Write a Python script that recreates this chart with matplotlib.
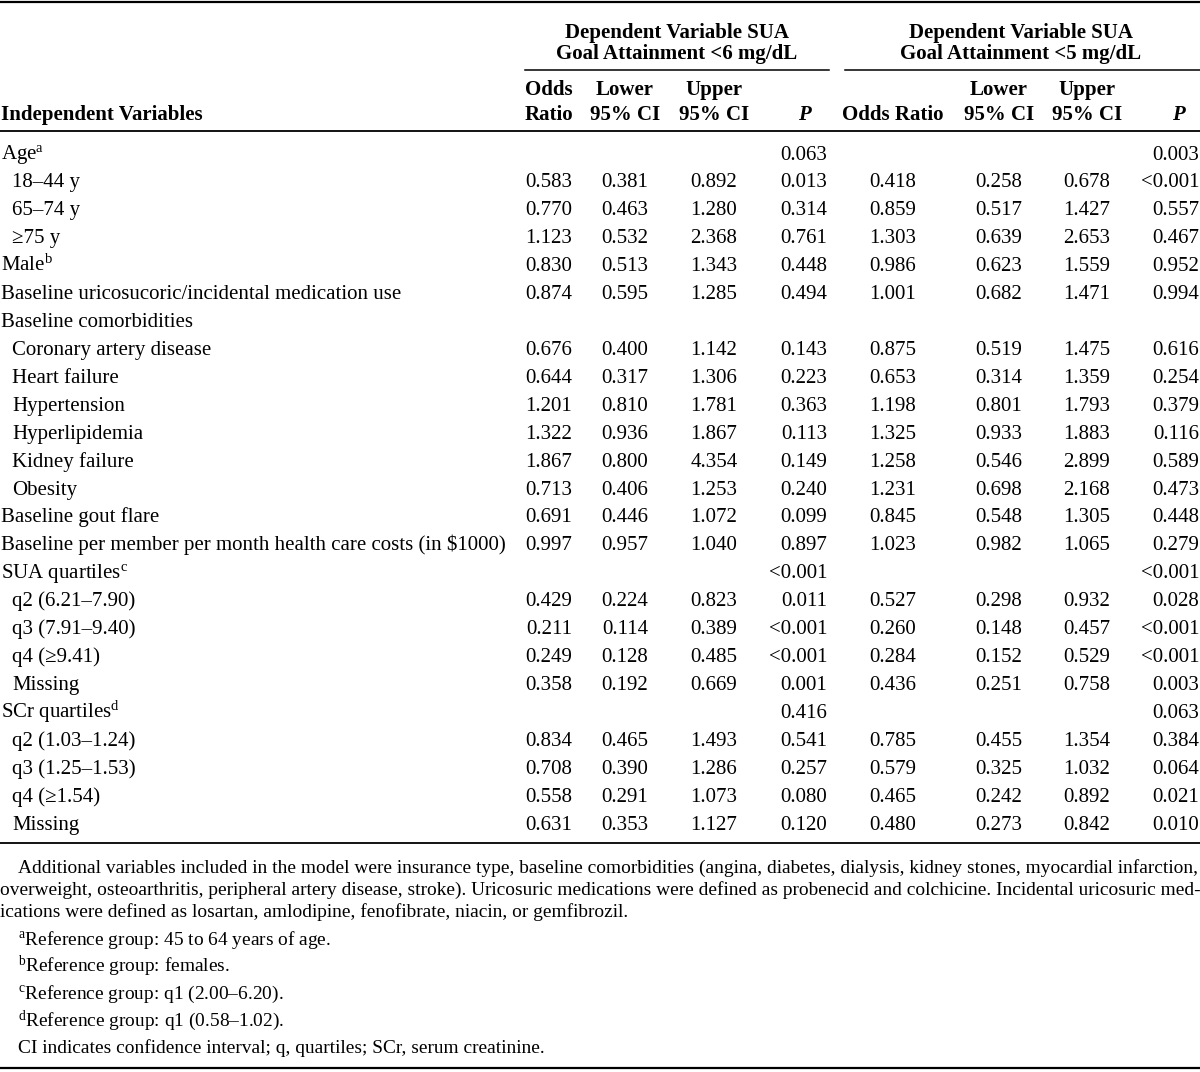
import matplotlib
matplotlib.use("Agg")
import matplotlib.pyplot as plt

plt.rcParams['font.family'] = ['Liberation Serif', 'DejaVu Serif']
plt.rcParams['mathtext.fontset'] = 'custom'
plt.rcParams['mathtext.rm'] = 'Liberation Serif'
plt.rcParams['mathtext.it'] = 'Liberation Serif:italic'
plt.rcParams['mathtext.bf'] = 'Liberation Serif:bold'

# ---------------- data ----------------
labels = ["Age$^{\\rm a}$", "18\u201344 y", "65\u201374 y", "\u226575 y", "Male$^{\\rm b}$",
          "Baseline uricosucoric/incidental medication use", "Baseline comorbidities",
          "Coronary artery disease", "Heart failure", "Hypertension", "Hyperlipidemia",
          "Kidney failure", "Obesity", "Baseline gout flare",
          "Baseline per member per month health care costs (in \\$1000)",
          "SUA quartiles$^{\\rm c}$", "q2 (6.21\u20137.90)", "q3 (7.91\u20139.40)", "q4 (\u22659.41)", "Missing",
          "SCr quartiles$^{\\rm d}$", "q2 (1.03\u20131.24)", "q3 (1.25\u20131.53)", "q4 (\u22651.54)", "Missing"]
indented = [0, 1, 1, 1, 0, 0, 0, 1, 1, 1, 1, 1, 1, 0, 0, 0, 1, 1, 1, 1, 0, 1, 1, 1, 1]

or6 = ["", "0.583", "0.770", "1.123", "0.830", "0.874", "", "0.676", "0.644", "1.201", "1.322", "1.867", "0.713",
       "0.691", "0.997", "", "0.429", "0.211", "0.249", "0.358", "", "0.834", "0.708", "0.558", "0.631"]
lo6 = ["", "0.381", "0.463", "0.532", "0.513", "0.595", "", "0.400", "0.317", "0.810", "0.936", "0.800", "0.406",
       "0.446", "0.957", "", "0.224", "0.114", "0.128", "0.192", "", "0.465", "0.390", "0.291", "0.353"]
hi6 = ["", "0.892", "1.280", "2.368", "1.343", "1.285", "", "1.142", "1.306", "1.781", "1.867", "4.354", "1.253",
       "1.072", "1.040", "", "0.823", "0.389", "0.485", "0.669", "", "1.493", "1.286", "1.073", "1.127"]
p6 = ["0.063", "0.013", "0.314", "0.761", "0.448", "0.494", "", "0.143", "0.223", "0.363", "0.113", "0.149", "0.240",
      "0.099", "0.897", "<0.001", "0.011", "<0.001", "<0.001", "0.001", "0.416", "0.541", "0.257", "0.080", "0.120"]

or5 = ["", "0.418", "0.859", "1.303", "0.986", "1.001", "", "0.875", "0.653", "1.198", "1.325", "1.258", "1.231",
       "0.845", "1.023", "", "0.527", "0.260", "0.284", "0.436", "", "0.785", "0.579", "0.465", "0.480"]
lo5 = ["", "0.258", "0.517", "0.639", "0.623", "0.682", "", "0.519", "0.314", "0.801", "0.933", "0.546", "0.698",
       "0.548", "0.982", "", "0.298", "0.148", "0.152", "0.251", "", "0.455", "0.325", "0.242", "0.273"]
hi5 = ["", "0.678", "1.427", "2.653", "1.559", "1.471", "", "1.475", "1.359", "1.793", "1.883", "2.899", "2.168",
       "1.305", "1.065", "", "0.932", "0.457", "0.529", "0.758", "", "1.354", "1.032", "0.892", "0.842"]
p5 = ["0.003", "<0.001", "0.557", "0.467", "0.952", "0.994", "", "0.616", "0.254", "0.379", "0.116", "0.589", "0.473",
      "0.448", "0.279", "<0.001", "0.028", "<0.001", "<0.001", "0.003", "0.063", "0.384", "0.064", "0.021", "0.010"]

group_titles = ["Dependent Variable SUA\nGoal Attainment <6 mg/dL",
                "Dependent Variable SUA\nGoal Attainment <5 mg/dL"]
col_heads = [["Odds\nRatio", "Lower\n95% CI", "Upper\n95% CI", "P"],
             ["Odds Ratio", "Lower\n95% CI", "Upper\n95% CI", "P"]]
row_head = "Independent Variables"

note_para = ["Additional variables included in the model were insurance type, baseline comorbidities (angina, diabetes, dialysis, kidney stones, myocardial infarction,",
             "overweight, osteoarthritis, peripheral artery disease, stroke). Uricosuric medications were defined as probenecid and colchicine. Incidental uricosuric med-",
             "ications were defined as losartan, amlodipine, fenofibrate, niacin, or gemfibrozil."]
notes = ["${}^{\\rm a}$Reference group: 45 to 64 years of age.",
         "${}^{\\rm b}$Reference group: females.",
         "${}^{\\rm c}$Reference group: q1 (2.00\u20136.20).",
         "${}^{\\rm d}$Reference group: q1 (0.58\u20131.02).",
         "CI indicates confidence interval; q, quartiles; SCr, serum creatinine."]

# ---------------- layout ----------------
W, H = 1200, 1072
fig = plt.figure(figsize=(W / 100, H / 100), dpi=100)
ax = fig.add_axes([0, 0, 1, 1])
ax.set_xlim(0, W)
ax.set_ylim(H, 0)
ax.axis('off')
renderer = fig.canvas.get_renderer()


def text_width(s, size, **kw):
    t = ax.text(0, 0, s, fontsize=size, **kw)
    w = t.get_window_extent(renderer=renderer).width
    t.remove()
    return w


# font sizes fitted to the reference widths
FS = 10 * 503 / text_width(labels[14], 10)
FS_N = min(10 * 1178 / text_width(note_para[0], 10),
           10 * 1196 / text_width(note_para[1], 10))

# rules
ax.plot([0, W], [1.5, 1.5], color='black', lw=1.6)
ax.plot([0, W], [131, 131], color='black', lw=1.3)
ax.plot([525, 829], [70, 70], color='black', lw=1.1)
ax.plot([845, W], [70, 70], color='black', lw=1.1)
ax.plot([0, W], [843, 843], color='black', lw=1.3)
ax.plot([0, W], [1068, 1068], color='black', lw=1.6)

# header
for g, xc in enumerate([677, 1021]):
    l1, l2 = group_titles[g].split("\n")
    ax.text(xc, 38, l1, ha='center', va='baseline', fontsize=FS, fontweight='bold')
    ax.text(xc, 59, l2, ha='center', va='baseline', fontsize=FS, fontweight='bold')

centers = [[549, 625, 714], [893, 999, 1087]]
p_right = [827, 1199]
p_head = [804, 1178]
for g in range(2):
    for c in range(3):
        parts = col_heads[g][c].split("\n")
        if len(parts) == 2:
            ax.text(centers[g][c], 95, parts[0], ha='center', va='baseline', fontsize=FS, fontweight='bold')
            ax.text(centers[g][c], 120, parts[1], ha='center', va='baseline', fontsize=FS, fontweight='bold')
        else:
            ax.text(centers[g][c], 120, parts[0], ha='center', va='baseline', fontsize=FS, fontweight='bold')
    ax.text(p_head[g], 120, col_heads[g][3], ha='center', va='baseline', fontsize=FS,
            fontweight='bold', fontstyle='italic')
ax.text(1, 120, row_head, ha='left', va='baseline', fontsize=FS, fontweight='bold')

# body
y0, dy = 159.5, 27.92
for i, lab in enumerate(labels):
    y = y0 + i * dy
    ax.text(1 + 11 * indented[i], y, lab, ha='left', va='baseline', fontsize=FS)
    for g, cols in enumerate([(or6, lo6, hi6, p6), (or5, lo5, hi5, p5)]):
        for c in range(3):
            if cols[c][i]:
                ax.text(centers[g][c], y, cols[c][i], ha='center', va='baseline', fontsize=FS)
        if cols[3][i]:
            ax.text(p_right[g], y, cols[3][i], ha='right', va='baseline', fontsize=FS)

# footnotes
note_y = [873, 895, 917]
note_x = [18, 0, 0]
for k, line in enumerate(note_para):
    ax.text(note_x[k], note_y[k], line, ha='left', va='baseline', fontsize=FS_N)
for k, n in enumerate(notes):
    ax.text(18, 945 + k * 27, n, ha='left', va='baseline', fontsize=FS_N)

fig.savefig("out.png", dpi=100)
